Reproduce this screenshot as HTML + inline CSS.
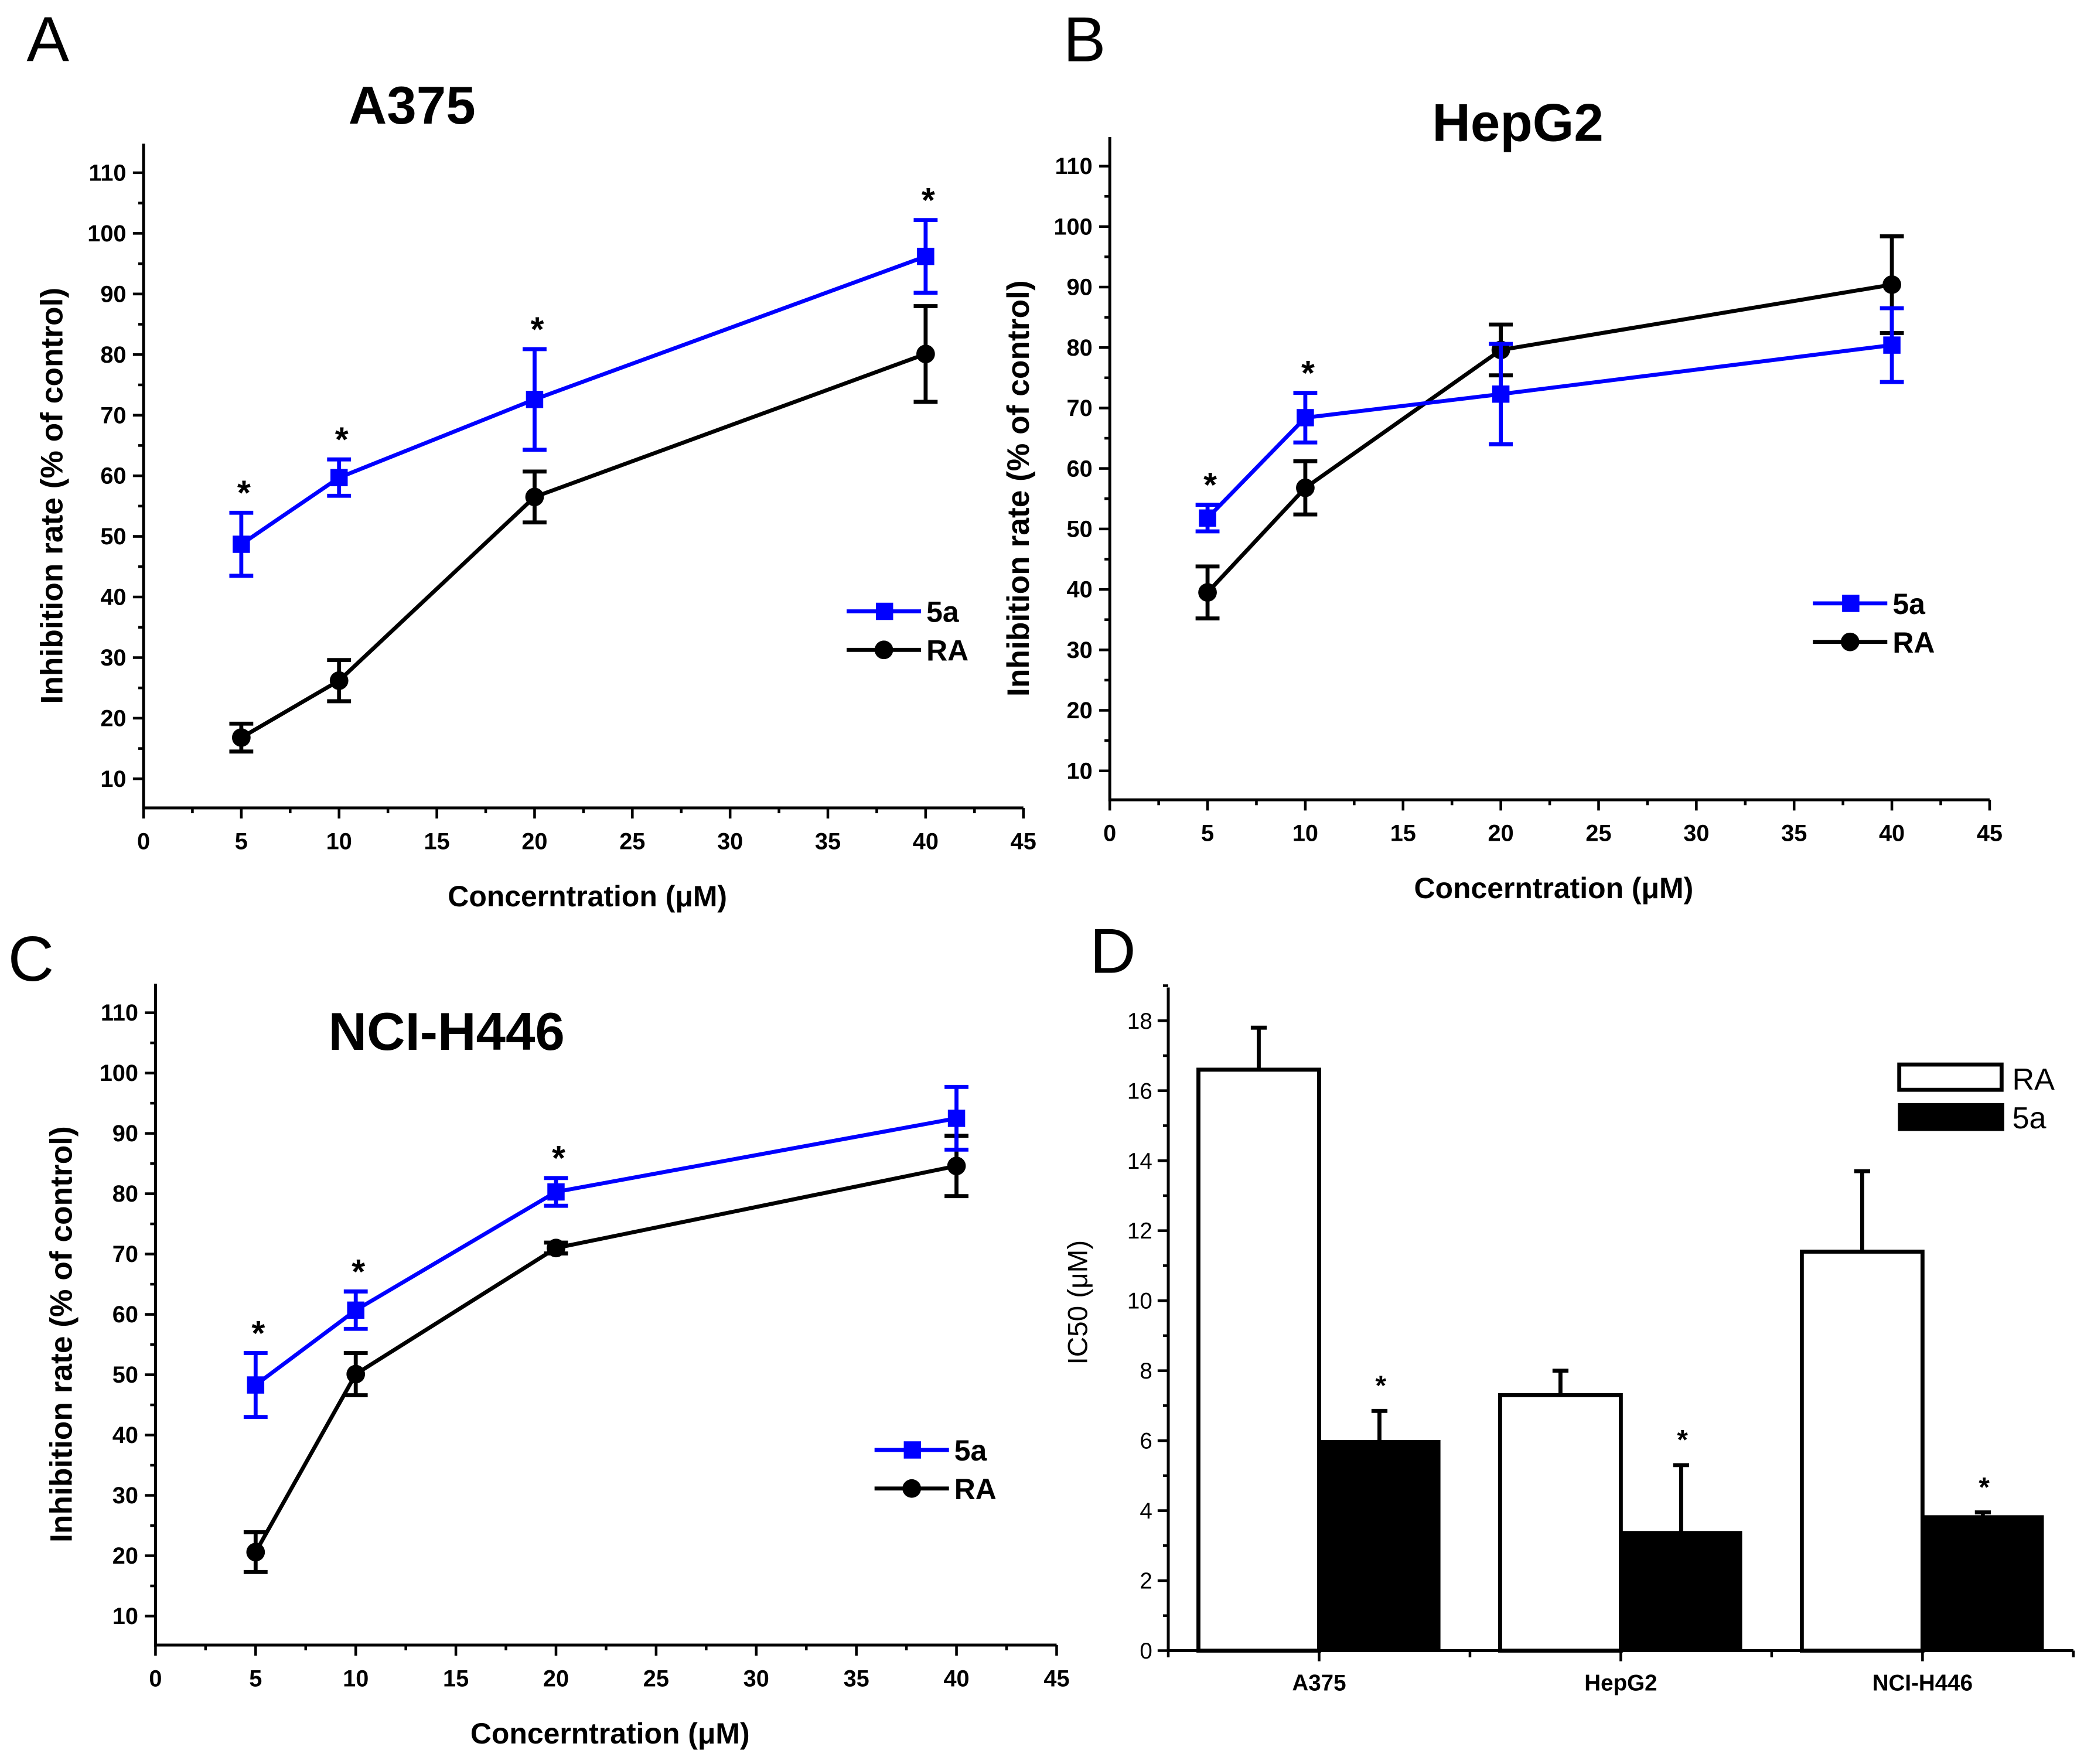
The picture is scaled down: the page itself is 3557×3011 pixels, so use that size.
<!DOCTYPE html>
<html><head><meta charset="utf-8"><style>
html,body{margin:0;padding:0;background:#fff;}
svg{display:block;}
text{font-family:"Liberation Sans",sans-serif;}
</style></head><body>
<svg id="fig" width="3557" height="3011" viewBox="0 0 1568 1327.3" preserveAspectRatio="none" xmlns="http://www.w3.org/2000/svg"></svg>
<script>
// Line charts data
const concentrations = [5, 10, 20, 40];
const a375_5a = [48.7, 59.7, 72.6, 96.2];
const a375_5a_err = [5.2, 3.0, 8.3, 6.0];
const a375_ra = [16.8, 26.2, 56.5, 80.1];
const a375_ra_err = [2.3, 3.4, 4.2, 7.9];
const a375_stars = [true, true, true, true];
const hepg2_5a = [51.8, 68.4, 72.3, 80.4];
const hepg2_5a_err = [2.2, 4.1, 8.3, 6.1];
const hepg2_ra = [39.5, 56.8, 79.6, 90.4];
const hepg2_ra_err = [4.3, 4.4, 4.2, 8.0];
const hepg2_stars = [true, true, false, false];
const h446_5a = [48.3, 60.7, 80.3, 92.5];
const h446_5a_err = [5.3, 3.1, 2.3, 5.2];
const h446_ra = [20.6, 50.1, 71.0, 84.6];
const h446_ra_err = [3.3, 3.5, 0.9, 5.0];
const h446_stars = [true, true, true, false];
const xTicks = [0, 5, 10, 15, 20, 25, 30, 35, 40, 45];
const yTicks = [10, 20, 30, 40, 50, 60, 70, 80, 90, 100, 110];
// Bar chart data
const barCategories = ["A375", "HepG2", "NCI-H446"];
const ic50_ra = [16.6, 7.3, 11.4];
const ic50_ra_err = [1.2, 0.7, 2.3];
const ic50_5a = [6.0, 3.4, 3.85];
const ic50_5a_err = [0.85, 1.9, 0.1];
const barYTicks = [0, 2, 4, 6, 8, 10, 12, 14, 16, 18];

const svg = document.getElementById('fig');
const NS = 'http://www.w3.org/2000/svg';
function mk(tag, attrs, parent) {
  const e = document.createElementNS(NS, tag);
  for (const k in attrs) e.setAttribute(k, attrs[k]);
  (parent || svg).appendChild(e);
  return e;
}
function txt(s, attrs, parent) { const t = mk('text', attrs, parent); t.textContent = s; return t; }

function lineChart(cfg) {
  const g = mk('g', {});
  
  
  const X = v => cfg.x0 + (v - 0) / 45 * (cfg.x1 - cfg.x0);
  const Y = v => cfg.y10 + (v - 10) / 100 * (cfg.y110 - cfg.y10);
  const axB = Y(5.2), axT = Y(114.8);
  const ax = mk('path', {d: `M${cfg.x0},${axT} V${axB} H${cfg.x1}`, stroke: '#000', 'stroke-width': 2.2, fill: 'none'}, g);
   
  for (let v = 10; v <= 110; v += 5) {
    const major = v % 10 === 0;
    mk('line', {x1: cfg.x0 - (major ? 8 : 4), x2: cfg.x0, y1: Y(v), y2: Y(v), stroke: '#000', 'stroke-width': 2}, g);
  }
  yTicks.forEach(v => {
    const t = txt(String(v), {x: cfg.x0 - 13, y: Y(v) + 6, 'text-anchor': 'end', 'font-size': 17.5, 'font-weight': 'bold'}, g);
     
  });
  for (let v = 0; v <= 45; v += 2.5) {
    const major = v % 5 === 0;
    mk('line', {x1: X(v), x2: X(v), y1: axB, y2: axB + (major ? 8 : 4), stroke: '#000', 'stroke-width': 2}, g);
  }
  xTicks.forEach(v => {
    const t = txt(String(v), {x: X(v), y: axB + 31, 'text-anchor': 'middle', 'font-size': 17.5, 'font-weight': 'bold'}, g);
     
  });
  const title = txt(cfg.title, {x: cfg.tx, y: cfg.ty, 'text-anchor': 'middle', 'font-size': 40, 'font-weight': 'bold'}, g);
   
  const yl = txt('Inhibition rate (% of control)', {x: 0, y: 0, transform: `translate(${cfg.ylx},${(axT + axB) / 2 + 15}) rotate(-90)`, 'text-anchor': 'middle', 'font-size': 23.5, 'font-weight': 'bold'}, g);
   
  const xl = txt('Concerntration (\u03bcM)', {x: (cfg.x0 + cfg.x1) / 2 + 3, y: axB + 74, 'text-anchor': 'middle', 'font-size': 22, 'font-weight': 'bold'}, g);
   

  function series(vals, errs, color, shape, name) {
    const sg = mk('g', {}, g);
     
    mk('polyline', {points: concentrations.map((c, i) => `${X(c)},${Y(vals[i])}`).join(' '), stroke: color, 'stroke-width': 3, fill: 'none'}, sg);
    concentrations.forEach((c, i) => {
      const x = X(c), yt = Y(vals[i] + errs[i]), yb = Y(vals[i] - errs[i]);
      const eb = mk('path', {d: `M${x},${yt} V${yb} M${x - 9},${yt} H${x + 9} M${x - 9},${yb} H${x + 9}`, stroke: color, 'stroke-width': 3, fill: 'none'}, sg);
       
      let m;
      if (shape === 'sq') m = mk('rect', {x: x - 6.5, y: Y(vals[i]) - 6.5, width: 13, height: 13, fill: color}, sg);
      else m = mk('circle', {cx: x, cy: Y(vals[i]), r: 7, fill: color}, sg);
       
    });
  }
  series(cfg.ra, cfg.raErr, '#000', 'ci', 'series-ra');
  series(cfg.s5a, cfg.s5aErr, '#0000ff', 'sq', 'series-5a');
  concentrations.forEach((c, i) => {
    if (!cfg.stars[i]) return;
    const s = txt('*', {x: X(c) + 2, y: Y(cfg.s5a[i] + cfg.s5aErr[i]) - 6, 'text-anchor': 'middle', 'font-size': 26, 'font-weight': 'bold'}, g);
     
  });
  const lg = mk('g', {}, g);
   
  const lx = cfg.lx, ly = cfg.ly;
  mk('line', {x1: lx, x2: lx + 56, y1: ly, y2: ly, stroke: '#0000ff', 'stroke-width': 3}, lg);
  mk('rect', {x: lx + 22, y: ly - 6.5, width: 13, height: 13, fill: '#0000ff'}, lg);
  txt('5a', {x: lx + 60, y: ly + 8, 'font-size': 22, 'font-weight': 'bold'}, lg);
  mk('line', {x1: lx, x2: lx + 56, y1: ly + 29, y2: ly + 29, stroke: '#000', 'stroke-width': 3}, lg);
  mk('circle', {cx: lx + 28, cy: ly + 29, r: 7, fill: '#000'}, lg);
  txt('RA', {x: lx + 60, y: ly + 37, 'font-size': 22, 'font-weight': 'bold'}, lg);
}

lineChart({name: 'panel-a-a375', x0: 108, x1: 770, y10: 586, y110: 130, title: 'A375', tx: 310, ty: 93, ylx: 47, lx: 637, ly: 460,
  s5a: a375_5a, s5aErr: a375_5a_err, ra: a375_ra, raErr: a375_ra_err, stars: a375_stars});
lineChart({name: 'panel-b-hepg2', x0: 835, x1: 1497, y10: 580, y110: 125, title: 'HepG2', tx: 1142, ty: 106, ylx: 774, lx: 1364, ly: 454,
  s5a: hepg2_5a, s5aErr: hepg2_5a_err, ra: hepg2_ra, raErr: hepg2_ra_err, stars: hepg2_stars});
lineChart({name: 'panel-c-nci-h446', x0: 117, x1: 795, y10: 1216, y110: 762, title: 'NCI-H446', tx: 336, ty: 790, ylx: 54, lx: 658, ly: 1091,
  s5a: h446_5a, s5aErr: h446_5a_err, ra: h446_ra, raErr: h446_ra_err, stars: h446_stars});

// Panel letters
[['A', 20, 46], ['B', 800, 46], ['C', 6, 738], ['D', 820, 732]].forEach(p => {
  const t = txt(p[0], {x: p[1], y: p[2], 'font-size': 48}, svg);
   
});

// Panel D bar chart
(function () {
  const g = mk('g', {});
   
  const x0 = 879, x1 = 1560, yBase = 1242, y18 = 768;
  const Y = v => yBase + v / 18 * (y18 - yBase);
  const groupW = (x1 - x0) / 3;
  const axTop = 743;
  mk('path', {d: `M${x0},${axTop} V${yBase} H${x1}`, stroke: '#000', 'stroke-width': 2.2, fill: 'none'}, g);
  for (let v = 0; v <= 19; v += 1) {
    const major = v % 2 === 0;
    mk('line', {x1: x0 - (major ? 8 : 4), x2: x0, y1: Y(v), y2: Y(v), stroke: '#000', 'stroke-width': 2}, g);
  }
  barYTicks.forEach(v => {
    const t = txt(String(v), {x: x0 - 12, y: Y(v) + 6, 'text-anchor': 'end', 'font-size': 17}, g);
     
  });
  for (let i = 0; i <= 6; i++) {
    mk('line', {x1: x0 + i * groupW / 2, x2: x0 + i * groupW / 2, y1: yBase, y2: yBase + (i % 2 ? 8 : 5), stroke: '#000', 'stroke-width': 2}, g);
  }
  const yl = txt('IC50 (\u03bcM)', {x: 0, y: 0, transform: 'translate(818,980) rotate(-90)', 'text-anchor': 'middle', 'font-size': 21}, g);
   
  const bw = groupW * 0.4;
  barCategories.forEach((c, i) => {
    const cx = x0 + groupW * (i + 0.5);
    const lab = txt(c, {x: cx, y: yBase + 30, 'text-anchor': 'middle', 'font-size': 17, 'font-weight': 'bold'}, g);
     
    const rx = cx - bw;
    mk('path', {d: `M${cx - bw / 2},${Y(ic50_ra[i])} V${Y(ic50_ra[i] + ic50_ra_err[i])} M${cx - bw / 2 - 6},${Y(ic50_ra[i] + ic50_ra_err[i])} H${cx - bw / 2 + 6}`, stroke: '#000', 'stroke-width': 3}, g);
    const b1 = mk('rect', {x: rx, y: Y(ic50_ra[i]), width: bw, height: yBase - Y(ic50_ra[i]), fill: '#fff', stroke: '#000', 'stroke-width': 3}, g);
     
    const b2 = mk('rect', {x: cx, y: Y(ic50_5a[i]), width: bw, height: yBase - Y(ic50_5a[i]), fill: '#000', stroke: '#000', 'stroke-width': 1}, g);
     
    const ex = cx + bw / 2;
    mk('path', {d: `M${ex},${Y(ic50_5a[i])} V${Y(ic50_5a[i] + ic50_5a_err[i])} M${ex - 6},${Y(ic50_5a[i] + ic50_5a_err[i])} H${ex + 6}`, stroke: '#000', 'stroke-width': 3}, g);
    const s = txt('*', {x: ex + 1, y: Y(ic50_5a[i] + ic50_5a_err[i]) - 12, 'text-anchor': 'middle', 'font-size': 21, 'font-weight': 'bold'}, g);
     
  });
  const lg = mk('g', {}, g);
   
  mk('rect', {x: 1429, y: 801, width: 77, height: 19, fill: '#fff', stroke: '#000', 'stroke-width': 3}, lg);
  txt('RA', {x: 1514, y: 820, 'font-size': 23}, lg);
  mk('rect', {x: 1428, y: 830, width: 80, height: 21, fill: '#000'}, lg);
  txt('5a', {x: 1514, y: 849, 'font-size': 23}, lg);
})();
</script>
</body></html>
